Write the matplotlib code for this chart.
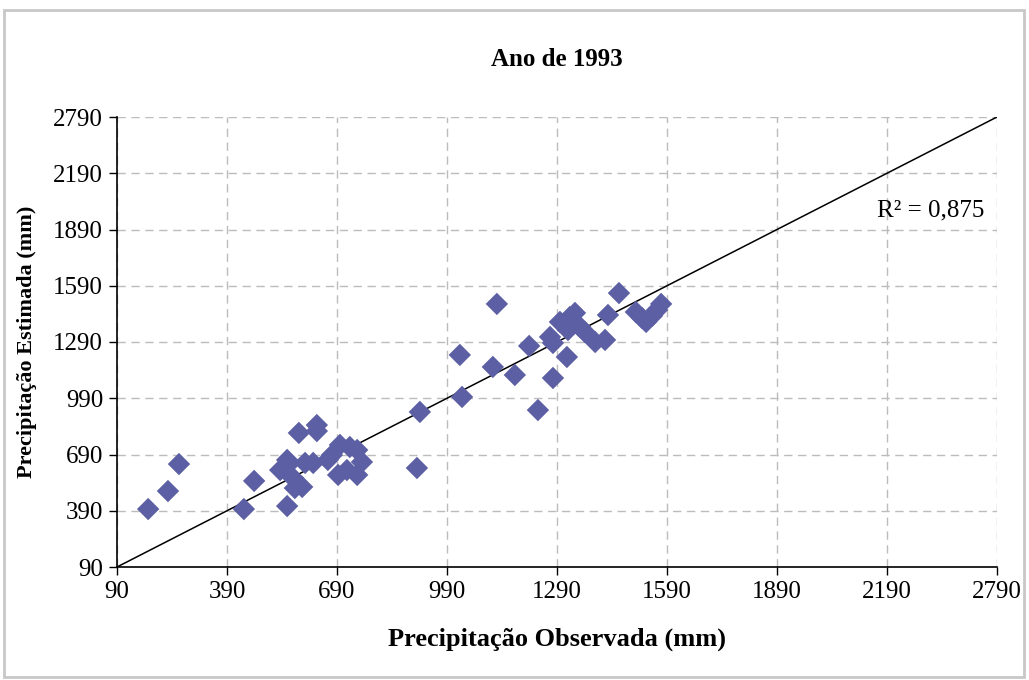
import matplotlib.pyplot as plt
from matplotlib.patches import Rectangle

observada = [175, 229, 259, 436, 464, 554, 535, 554, 556, 570, 575, 595, 586,
             603, 625, 635, 635, 665, 676, 698, 725, 745, 758, 693, 717, 745,
             908, 916, 1025, 1031, 1126, 1115, 1175, 1214, 1238, 1279, 1271,
             1279, 1317, 1298, 1325, 1339, 1353, 1366, 1320, 1394, 1421, 1429,
             1459, 1505, 1522, 1533, 1549, 1563, 1574]
estimada = [399, 495, 639, 399, 549, 415, 607, 661, 634, 565, 511, 517, 805,
            645, 645, 847, 815, 661, 687, 741, 730, 714, 650, 581, 607, 581,
            618, 917, 1221, 997, 1493, 1157, 1114, 1269, 927, 1098, 1317,
            1285, 1210, 1397, 1423, 1445, 1370, 1343, 1354, 1290, 1301, 1434,
            1551, 1450, 1418, 1397, 1429, 1461, 1493]

tick_pos = [90, 390, 690, 990, 1290, 1590, 1890, 2190, 2490]
tick_labels = ["90", "390", "690", "990", "1290", "1590", "1890", "2190", "2790"]
r2_text = "R² = 0,875"

plt.rcParams['font.family'] = ['Liberation Serif', 'DejaVu Serif']

fig = plt.figure(figsize=(10.29, 6.8), dpi=100)
ax = fig.add_axes([117 / 1029, 1 - 567 / 680, 880 / 1029, 450 / 680])

# frame around the whole chart
fig.patches.append(Rectangle((4 / 1029, 3 / 680), 1020 / 1029, 667 / 680,
                             transform=fig.transFigure, fill=False,
                             edgecolor="#c8c8c8", lw=2))

lo, hi = tick_pos[0], tick_pos[-1]
ax.plot([lo, hi], [lo, hi], color="black", lw=1.1, zorder=2)
ax.scatter(observada, estimada, marker="D", s=130, color="#5c5fa3",
           edgecolors="none", zorder=3)

ax.set_xlim(lo, hi)
ax.set_ylim(lo, hi)
ax.set_xticks(tick_pos)
ax.set_xticklabels(tick_labels)
ax.set_yticks(tick_pos)
ax.set_yticklabels(tick_labels)
ax.tick_params(direction="out", length=6, width=1, labelsize=18, pad=4)

ax.grid(True, color="#bcbcbc", linestyle=(0, (6, 4)), lw=1)
ax.set_axisbelow(True)
for side in ("top", "right"):
    ax.spines[side].set_visible(False)
for side in ("left", "bottom"):
    ax.spines[side].set_linewidth(1.2)

ax.set_title("Ano de 1993", fontsize=18, fontweight="bold", pad=37)
ax.set_xlabel("Precipitação Observada (mm)", fontsize=19, fontweight="bold",
              labelpad=18)
ax.set_ylabel("Precipitação Estimada (mm)", fontsize=16, fontweight="bold",
              labelpad=12)
ax.text(0.986, 0.793, r2_text, transform=ax.transAxes, ha="right",
        va="center", fontsize=18)

fig.savefig("out.png", dpi=100)
